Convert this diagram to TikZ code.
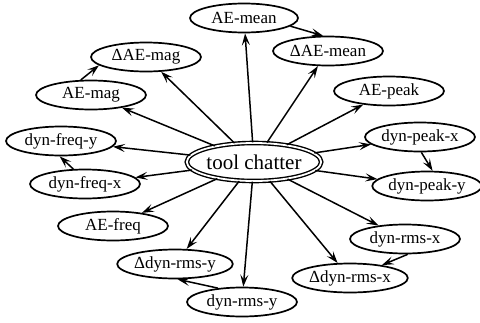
\documentclass[tikz,border=0pt]{standalone}
\usepackage{fontspec}
\setmainfont{Liberation Serif}
\usetikzlibrary{shapes.geometric,arrows.meta}
\begin{document}
\begin{tikzpicture}[x=1pt,y=-1pt,
  leaf/.style={draw,ellipse,line width=1.7pt,inner sep=0pt,minimum width=110pt,minimum height=29pt,font=\fontsize{17}{19}\selectfont},
  hub/.style={draw,ellipse,double,double distance=1.8pt,line width=1.4pt,inner sep=0pt,minimum width=131pt,minimum height=38pt,font=\fontsize{21}{24}\selectfont},
  edge/.style={line width=1.5pt,-{Stealth[length=12pt,width=8pt,inset=5pt]}}]
\useasboundingbox (0,0) rectangle (480,322);
\node[hub] (tc) at (254,162) {tool chatter};
\node[leaf,minimum width=108pt] (AEmean) at (244,18) {AE-mean};
\node[leaf] (dAEmean) at (328,51) {ΔAE-mean};
\node[leaf] (dAEmag) at (146,57) {ΔAE-mag};
\node[leaf] (AEmag) at (91,95) {AE-mag};
\node[leaf] (dfy) at (61,141) {dyn-freq-y};
\node[leaf] (AEpeak) at (389,91) {AE-peak};
\node[leaf] (dpx) at (420,137) {dyn-peak-x};
\node[leaf,minimum width=107pt] (dpy) at (427,186) {dyn-peak-y};
\node[leaf] (drx) at (405,239) {dyn-rms-x};
\node[leaf] (ddrx) at (350,278) {Δdyn-rms-x};
\node[leaf] (dry) at (242,302) {dyn-rms-y};
\node[leaf] (ddry) at (175,264) {Δdyn-rms-y};
\node[leaf] (AEfreq) at (113,226) {AE-freq};
\node[leaf] (dfx) at (85,184) {dyn-freq-x};
\foreach \n in {AEmean,dAEmean,dAEmag,AEmag,dfy,AEpeak,dpx,dpy,drx,ddrx,dry,ddry,AEfreq,dfx}
  \draw[edge] (tc) -- (\n);
\draw[edge] (AEmag.124) -- (dAEmag.190);
\draw[edge] (AEmean.-10) -- (dAEmean.108);
\draw[edge] (dpx.-85) -- (dpy.70);
\draw[edge] (dfx.128) -- (dfy.-95);
\draw[edge] (drx.-80) -- (ddrx.22);
\draw[edge] (dry.150) -- (ddry.-80);
\end{tikzpicture}
\end{document}
